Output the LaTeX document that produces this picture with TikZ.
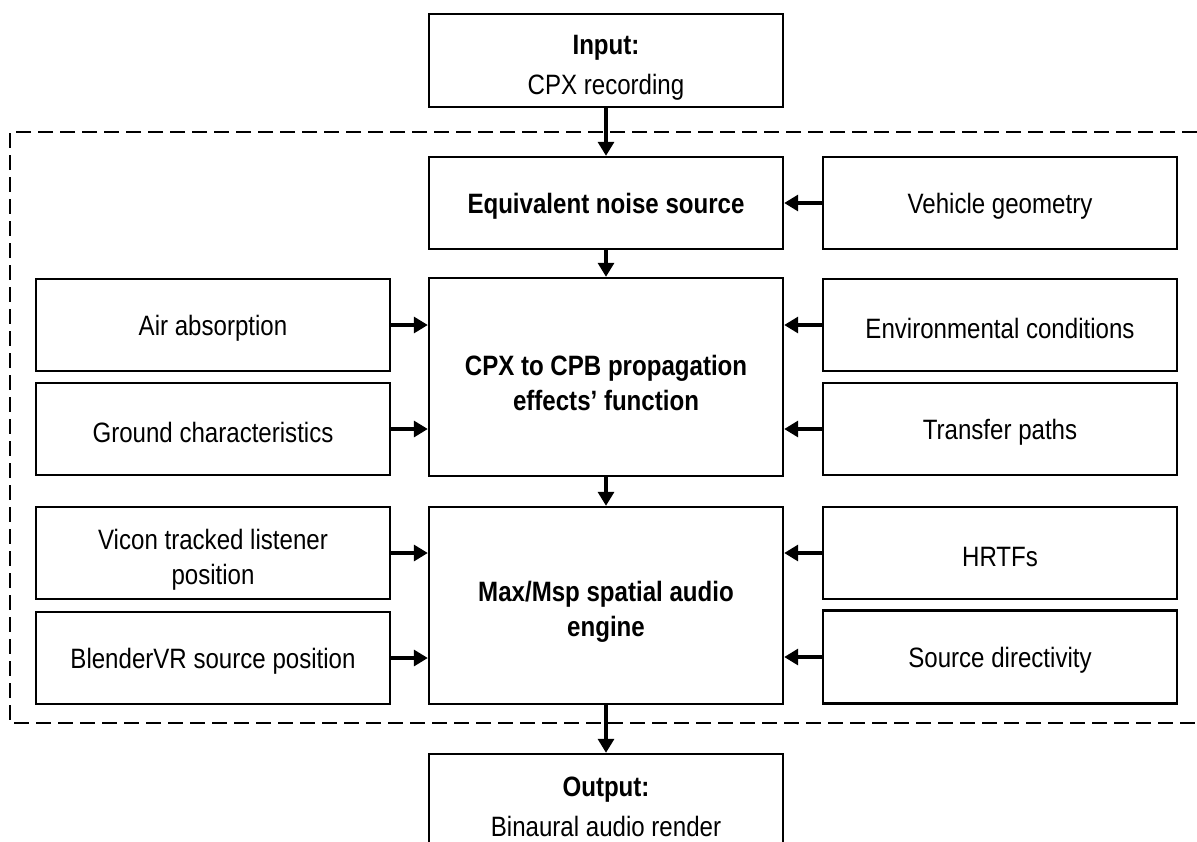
\documentclass[tikz,border=0pt]{standalone}
\usepackage{fontspec}
\setmainfont{Liberation Sans}[FakeStretch=0.86]
\usetikzlibrary{arrows.meta}
\newcommand{\dropstrut}{\rule{0pt}{16.5pt}}
\begin{document}
\begin{tikzpicture}[x=0.5pt,y=-0.5pt,
  box/.style={draw, line width=1.2pt, inner sep=0pt, align=center,
    minimum width=177pt, minimum height=46pt,
    font=\fontsize{14}{17.5}\selectfont,
    execute at begin node={\rule{0pt}{13.5pt}}},
  arr/.style={line width=1.6pt, -{Triangle[length=7pt,width=8pt]}},
  frame/.style={line width=1pt, dash pattern=on 7.5pt off 3.5pt},
]
\useasboundingbox (0,0) rectangle (1197,841);

\draw[frame] (1197,132) -- (10,132) -- (10,723) -- (1197,723);

\node[box, minimum height=46.5pt] (input) at (606,60.5) {\dropstrut\textbf{Input:}\\[2.5pt]CPX recording};
\node[box] (equiv) at (606,203) {\textbf{Equivalent noise source}};
\node[box] (veh) at (1000,203) {Vehicle geometry};
\node[box, minimum height=99pt] (cpx) at (606,377) {\dropstrut\textbf{CPX to CPB propagation}\\\textbf{effects’ function}};
\node[box] (air) at (213,325) {Air absorption};
\node[box] (ground) at (213,429) {Ground characteristics};
\node[box] (env) at (1000,325) {Environmental conditions};
\node[box] (transfer) at (1000,429) {Transfer paths};
\node[box, minimum height=98.5pt] (max) at (606,605.5) {\dropstrut\textbf{Max/Msp spatial audio}\\\textbf{engine}};
\node[box] (vicon) at (213,553) {\dropstrut Vicon tracked listener\\position};
\node[box] (blender) at (213,658) {BlenderVR source position};
\node[box] (hrtf) at (1000,553) {HRTFs};
\node[box, minimum height=46.5pt] (srcdir) at (1000,657) {Source directivity};
\node[box, minimum height=46.5pt] (output) at (606,800.5) {\dropstrut\textbf{Output:}\\[2.5pt]Binaural audio render};

\draw[arr] (input.south) -- (equiv.north);
\draw[arr] (equiv.south) -- (cpx.north);
\draw[arr] (cpx.south) -- (max.north);
\draw[arr] (max.south) -- (output.north);

\draw[arr] (veh.west) -- (veh.west -| equiv.east);
\draw[arr] (air.east) -- (air.east -| cpx.west);
\draw[arr] (ground.east) -- (ground.east -| cpx.west);
\draw[arr] (env.west) -- (env.west -| cpx.east);
\draw[arr] (transfer.west) -- (transfer.west -| cpx.east);
\draw[arr] (vicon.east) -- (vicon.east -| max.west);
\draw[arr] (blender.east) -- (blender.east -| max.west);
\draw[arr] (hrtf.west) -- (hrtf.west -| max.east);
\draw[arr] (srcdir.west) -- (srcdir.west -| max.east);
\end{tikzpicture}
\end{document}
